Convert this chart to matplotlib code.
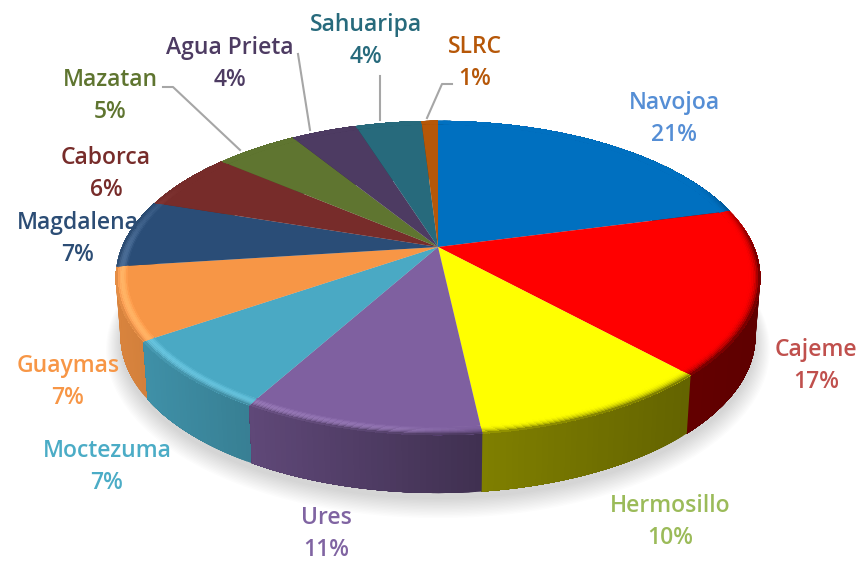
import numpy as np
import matplotlib
matplotlib.use("Agg")
import matplotlib.pyplot as plt
from matplotlib.colors import to_rgb

# --- data ---
municipios = ["Navojoa", "Cajeme", "Hermosillo", "Ures", "Moctezuma", "Guaymas",
              "Magdalena", "Caborca", "Mazatan", "Agua Prieta", "Sahuaripa", "SLRC"]
etiquetas = ["21%", "17%", "10%", "11%", "7%", "7%", "7%", "6%", "5%", "4%", "4%", "1%"]
porcentajes = [21, 17, 10.2, 10.05, 7.35, 7.4, 7, 6, 5, 4, 4, 1]
colores = ["#0070c0", "#ff0000", "#ffff00", "#7f60a0", "#4aa9c4", "#f79646",
           "#2a4d77", "#772c2a", "#5f7530", "#4d3b62", "#276a7c", "#b65708"]
colores_txt = ["#558ed5", "#c0504d", "#9bbb59", "#8064a2", "#4bacc6", "#f79646",
               "#2c4d75", "#772c2a", "#5f7530", "#4d3b62", "#276a7c", "#b65708"]

# label centres in pixels
pos_txt = [(674, 119), (816, 366), (670, 522), (326, 534), (107, 467), (68, 382),
           (78, 239), (106, 174), (110, 96), (230, 64), (366, 41), (475, 63)]

# leader lines
guias = [[(163, 87), (173, 87), (240, 150)],
         [(298, 54), (310, 130)],
         [(380, 76), (380, 120)],
         [(452, 84), (442, 84), (427, 118)]]

# pie geometry (perspective projection of a circle, pixels)
CX, CY = 438, 247
A, B, K = 151, 316, 0.197
DEPTH = 58
BEVEL = 0.035


def proyectar(theta, r=1.0):
    # theta clockwise from 12 o'clock
    u = r * np.sin(theta)
    v = -r * np.cos(theta)
    d = 1 - K * v
    return CX + B * u / d, CY + A * v / d


def base_lado(x, y):
    # bottom edge of the wall, slightly narrower than the top edge
    return CX + (x - CX) * 0.985, y + DEPTH


def factor_lado(x):
    return np.interp(x, [115, 250, 483, 690, 760], [0.88, 0.75, 0.5, 0.39, 0.37])


fig = plt.figure(figsize=(8.61, 5.63), dpi=100)
ax = fig.add_axes([0, 0, 1, 1])
ax.set_xlim(0, 861)
ax.set_ylim(563, 0)
ax.axis("off")

fracs = np.array(porcentajes) / sum(porcentajes)
bordes = np.concatenate([[0], np.cumsum(fracs)]) * 2 * np.pi

# --- soft shadow under the pie ---
th = np.linspace(0, 2 * np.pi, 400)
xs, ys = proyectar(th)
xb, yb = base_lado(xs, ys)
for i in range(14):
    esc = 1 + 0.0035 * i
    ax.fill(CX + (xb - CX) * esc, yb + 6 + (yb - yb.mean()) * (esc - 1) * 1.6 + i * 0.5,
            color="#000000", alpha=0.011, lw=0, zorder=1)

# --- wall, back slices first so the front ones cover them ---
medios = (bordes[:-1] + bordes[1:]) / 2
orden = np.argsort(-np.cos(medios))
for i in orden:
    base = np.array(to_rgb(colores[i]))
    n = max(int(fracs[i] * 400), 4)
    t = np.linspace(bordes[i], bordes[i + 1], n + 1)
    x, y = proyectar(t)
    x2, y2 = base_lado(x, y)
    # every piece runs to the end of the slice and the next paints over it: no seams
    for j in range(n):
        c = base * factor_lado((x[j] + x[j + 1]) / 2)
        ax.fill(np.r_[x[j:], x2[j:][::-1]], np.r_[y[j:], y2[j:][::-1]], color=c, lw=0, zorder=2)

# --- top face and bevel ---
niveles = np.linspace(1 - BEVEL, 1, 8)
for i, col in enumerate(colores):
    base = np.array(to_rgb(col))
    n = max(int(fracs[i] * 300), 4)
    t = np.linspace(bordes[i], bordes[i + 1], n + 1)
    x, y = proyectar(t, 1 - BEVEL + 0.001)
    ax.fill(np.r_[CX, x], np.r_[CY, y], color=col, lw=0, zorder=3)
    xo, yo = proyectar(t, 1.0)
    for k in range(len(niveles) - 1):
        s = (k + 0.5) / (len(niveles) - 1)
        x1, y1 = proyectar(t, niveles[k])
        for j in range(n):
            tm = (t[j] + t[j + 1]) / 2
            xm = (xo[j] + xo[j + 1]) / 2
            w = np.clip((-np.cos(tm) + 0.45) / 0.45, 0, 1)
            lado = base * factor_lado(xm)
            brillo = np.interp(xm, [115, 400, 480], [0.13, 0.09, 0.0])
            c = base + (lado - base) * w * s ** 2.5
            c = np.clip(c + brillo * w * np.sin(np.pi * s), 0, 1)
            ax.fill(np.r_[x1[j:], xo[j:][::-1]], np.r_[y1[j:], yo[j:][::-1]], color=c, lw=0, zorder=4)

# --- leader lines ---
for g in guias:
    ax.plot([p[0] for p in g], [p[1] for p in g], color="#a6a6a6", lw=1.5, zorder=5)

# --- labels ---
for nombre, etiqueta, c, p in zip(municipios, etiquetas, colores_txt, pos_txt):
    ax.text(p[0], p[1], f"{nombre}\n{etiqueta}", color=c, ha="center", va="center",
            family="Open Sans", fontweight="semibold", fontsize=16.5, linespacing=1.45, zorder=6)

fig.savefig("out.png", dpi=100)
